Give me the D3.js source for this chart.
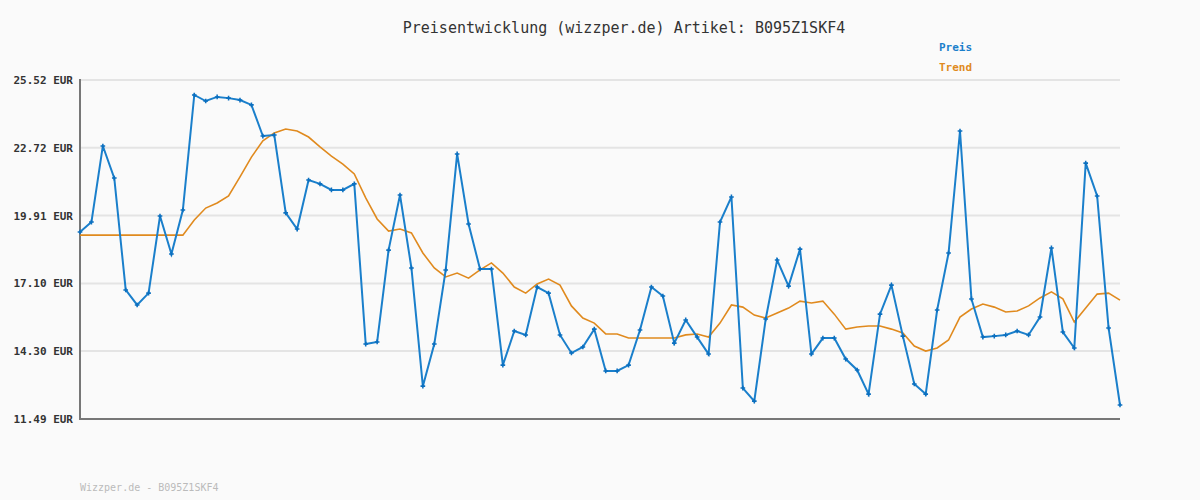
<!DOCTYPE html>
<html>
<head>
<meta charset="utf-8">
<script src="https://cdn.jsdelivr.net/npm/d3@7"></script>
<style>
  body { margin: 0; background: #fafafa; }
  text { font-family: "DejaVu Sans Mono", monospace; }
</style>
</head>
<body>
<svg id="chart"></svg>
<script>
// price values
const preis = [19.23, 19.64, 22.79, 21.46, 16.83, 16.21, 16.70, 19.89, 18.32, 20.14,
  24.90, 24.65, 24.82, 24.77, 24.69, 24.49, 23.20, 23.24, 20.02, 19.35,
  21.38, 21.22, 20.97, 20.97, 21.22, 14.59, 14.68, 18.48, 20.76, 17.74,
  12.85, 14.59, 17.66, 22.46, 19.56, 17.70, 17.70, 13.72, 15.13, 14.97,
  16.95, 16.70, 14.97, 14.22, 14.47, 15.21, 13.48, 13.48, 13.72, 15.17,
  16.95, 16.58, 14.63, 15.59, 14.88, 14.18, 19.64, 20.68, 12.77, 12.23,
  15.63, 18.07, 16.99, 18.52, 14.18, 14.84, 14.84, 13.97, 13.52, 12.52,
  15.83, 17.03, 14.92, 12.94, 12.52, 16.00, 18.36, 23.41, 16.46, 14.88,
  14.92, 14.97, 15.13, 14.97, 15.71, 18.57, 15.09, 14.43, 22.08, 20.72,
  15.26, 12.07];

const trend = [19.10, 19.10, 19.10, 19.10, 19.10, 19.10, 19.10, 19.10, 19.10, 19.10,
  19.73, 20.22, 20.43, 20.72, 21.51, 22.33, 23.00, 23.33, 23.49, 23.41,
  23.16, 22.75, 22.37, 22.04, 21.63, 20.64, 19.77, 19.27, 19.35, 19.19,
  18.36, 17.74, 17.37, 17.53, 17.32, 17.66, 17.95, 17.53, 16.95, 16.70,
  17.08, 17.28, 17.03, 16.17, 15.67, 15.46, 15.01, 15.01, 14.84, 14.84,
  14.84, 14.84, 14.84, 14.97, 15.01, 14.88, 15.46, 16.21, 16.12, 15.79,
  15.67, 15.88, 16.08, 16.37, 16.29, 16.37, 15.83, 15.21, 15.30, 15.34,
  15.34, 15.21, 15.05, 14.51, 14.30, 14.43, 14.76, 15.71, 16.04, 16.25,
  16.12, 15.92, 15.96, 16.17, 16.50, 16.75, 16.46, 15.50, 16.08, 16.66,
  16.70, 16.41];

const yTicks = [11.49, 14.30, 17.10, 19.91, 22.72, 25.52];
const artikel = "B095Z1SKF4";

const width = 1200, height = 500;
const margin = { left: 80, right: 80, top: 80, bottom: 81 };

const svg = d3.select("#chart").attr("width", width).attr("height", height);
svg.append("rect").attr("width", width).attr("height", height).attr("fill", "#fafafa");

const x = d3.scaleLinear().domain([0, preis.length - 1]).range([margin.left, width - margin.right]);
const y = d3.scaleLinear().domain([11.49, 25.52]).range([height - margin.bottom, margin.top]);

// grid lines
svg.append("g")
  .selectAll("line")
  .data(yTicks)
  .enter()
  .append("line")
  .attr("x1", margin.left)
  .attr("x2", width - margin.right)
  .attr("y1", d => y(d))
  .attr("y2", d => y(d))
  .attr("stroke", "#e4e4e4")
  .attr("stroke-width", 2);

// y axis labels
svg.append("g")
  .selectAll("text")
  .data(yTicks)
  .enter()
  .append("text")
  .attr("x", margin.left - 7)
  .attr("y", d => y(d) + 4)
  .attr("text-anchor", "end")
  .attr("font-size", 11)
  .attr("font-weight", "bold")
  .attr("fill", "#333")
  .text(d => d.toFixed(2) + " EUR");

// axis lines
svg.append("line")
  .attr("x1", margin.left).attr("x2", margin.left)
  .attr("y1", y(25.52) - 1).attr("y2", y(11.49) + 1)
  .attr("stroke", "#777").attr("stroke-width", 2);
svg.append("line")
  .attr("x1", margin.left).attr("x2", width - margin.right)
  .attr("y1", y(11.49)).attr("y2", y(11.49))
  .attr("stroke", "#777").attr("stroke-width", 2);

const line = d3.line().x((d, i) => x(i)).y(d => y(d));

svg.append("path")
  .attr("d", line(trend))
  .attr("fill", "none")
  .attr("stroke", "#e08a1e")
  .attr("stroke-width", 1.6);

svg.append("path")
  .attr("d", line(preis))
  .attr("fill", "none")
  .attr("stroke", "#1a7fcb")
  .attr("stroke-width", 2);

// point markers
svg.append("g")
  .selectAll("path")
  .data(preis)
  .enter()
  .append("path")
  .attr("d", d3.symbol().type(d3.symbolCross).size(12))
  .attr("transform", (d, i) => `translate(${x(i)},${y(d)})`)
  .attr("fill", "#0b6fbf");

// title
svg.append("text")
  .attr("x", 624)
  .attr("y", 33)
  .attr("text-anchor", "middle")
  .attr("font-size", 15)
  .attr("fill", "#333")
  .text("Preisentwicklung (wizzper.de) Artikel: " + artikel);

// legend
svg.append("text").attr("x", 939).attr("y", 51)
  .attr("font-size", 11).attr("font-weight", "bold").attr("fill", "#1a7fcb").text("Preis");
svg.append("text").attr("x", 939).attr("y", 71)
  .attr("font-size", 11).attr("font-weight", "bold").attr("fill", "#e08a1e").text("Trend");

// footer
svg.append("text")
  .attr("x", 80)
  .attr("y", 491)
  .attr("font-size", 10)
  .attr("fill", "#bbb")
  .text("Wizzper.de - " + artikel);
</script>
</body>
</html>
